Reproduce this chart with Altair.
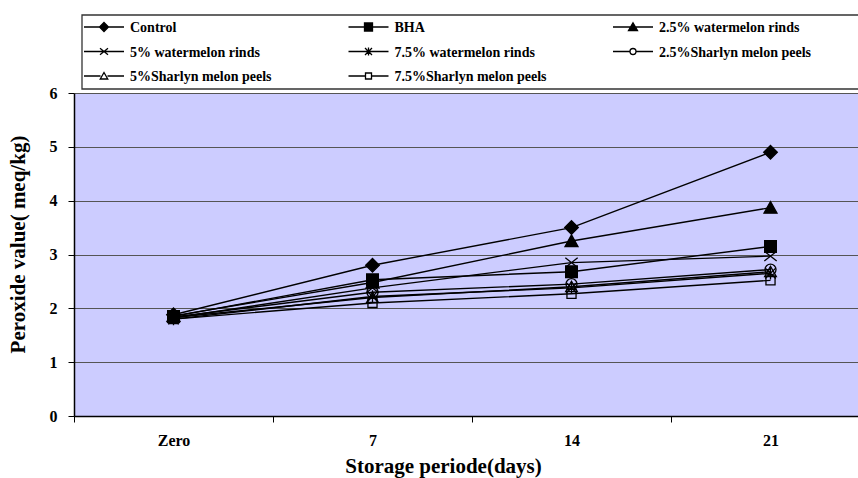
import altair as alt
import pandas as pd

days = ["Zero", "7", "14", "21"]
series = [
    "Control",
    "BHA",
    "2.5% watermelon rinds",
    "5% watermelon rinds",
    "7.5% watermelon rinds",
    "2.5%Sharlyn melon peels",
    "5%Sharlyn melon peels",
    "7.5%Sharlyn melon peels",
]
control = [1.88, 2.80, 3.50, 4.90]
bha = [1.85, 2.53, 2.68, 3.15]
wm25 = [1.86, 2.48, 3.25, 3.87]
wm5 = [1.82, 2.38, 2.85, 2.97]
wm75 = [1.80, 2.22, 2.38, 2.65]
sm25 = [1.84, 2.30, 2.45, 2.72]
sm5 = [1.83, 2.20, 2.40, 2.68]
sm75 = [1.80, 2.10, 2.27, 2.52]
values = [control, bha, wm25, wm5, wm75, sm25, sm5, sm75]

# marker outlines (unit coordinates) for the plot
marker_paths = [
    "M0,-1.05L1.05,0L0,1.05L-1.05,0Z",
    "M-0.9,-0.9H0.9V0.9H-0.9Z",
    "M0,-0.95L1,0.85H-1Z",
    "M-0.95,-0.75L0.95,0.75M-0.95,0.75L0.95,-0.75",
    "M-0.8,-0.8L0.8,0.8M-0.8,0.8L0.8,-0.8M0,-0.95V0.95",
    "M-0.85,0A0.85,0.85,0,1,0,0.85,0A0.85,0.85,0,1,0,-0.85,0Z",
    "M0,-0.85L0.9,0.75H-0.9Z",
    "M-0.7,-0.7H0.7V0.7H-0.7Z",
]
# legend symbols: marker with its line segment
legend_paths = [
    "M-4,0H4M0,-0.9L0.9,0L0,0.9L-0.9,0Z",
    "M-4,0H4M-0.8,-0.8H0.8V0.8H-0.8Z",
    "M-4,0H4M0,-0.85L0.9,0.7H-0.9Z",
    "M-4,0H4M-0.8,-0.65L0.8,0.65M-0.8,0.65L0.8,-0.65",
    "M-4,0H4M-0.7,-0.7L0.7,0.7M-0.7,0.7L0.7,-0.7M0,-0.8V0.8",
    "M-4,0H-0.6M0.6,0H4M-0.6,0A0.6,0.6,0,1,0,0.6,0A0.6,0.6,0,1,0,-0.6,0Z",
    "M-4,0H-0.7M0.7,0H4M0,-0.7L0.75,0.6H-0.75Z",
    "M-4,0H-0.6M0.6,0H4M-0.6,-0.6H0.6V0.6H-0.6Z",
]
fills = ["black", "black", "black", "transparent", "transparent",
         "transparent", "transparent", "transparent"]

rows = []
for s, vals in zip(series, values):
    for d, v in zip(days, vals):
        rows.append({"day": d, "series": s, "pv": v})
df = pd.DataFrame(rows)

legend_df = pd.DataFrame({
    "series": series,
    "col": [i % 3 for i in range(len(series))],
    "row": [i // 3 for i in range(len(series))],
})

FONT = "Liberation Serif"

x_enc = alt.X(
    "day:N",
    sort=days,
    bandPosition=0.5,
    scale=alt.Scale(type="band", paddingInner=0, paddingOuter=0, range=[0, 796]),
    axis=alt.Axis(
        title="Storage periode(days)",
        labelAngle=0,
        tickBand="extent",
        tickSize=6,
        tickColor="black",
        domainColor="black",
        domainWidth=1.5,
        grid=False,
        labelFont=FONT,
        labelFontSize=16,
        labelFontWeight="bold",
        labelColor="black",
        labelPadding=10,
        titleFont=FONT,
        titleFontSize=21,
        titleFontWeight="bold",
        titleColor="black",
        titleX=369,
        titleY=56,
        titleBaseline="alphabetic",
    ),
)
y_enc = alt.Y(
    "pv:Q",
    scale=alt.Scale(domain=[0, 6], nice=False, zero=True),
    axis=alt.Axis(
        title="Peroxide value( meq/kg)",
        values=[0, 1, 2, 3, 4, 5, 6],
        format="d",
        grid=True,
        gridColor="#555555",
        gridWidth=1,
        tickSize=6,
        tickColor="black",
        domainColor="black",
        domainWidth=1.5,
        labelFont=FONT,
        labelFontSize=16,
        labelFontWeight="bold",
        labelColor="black",
        labelPadding=11,
        titleFont=FONT,
        titleFontSize=21,
        titleFontWeight="bold",
        titleColor="black",
        titleX=-56,
        titleY=151,
        titleBaseline="middle",
    ),
)

base = alt.Chart(df)

lines = base.mark_line(color="black", strokeWidth=1.4).encode(
    x=x_enc, y=y_enc, detail="series:N"
)

points = base.mark_point(size=169, strokeWidth=1.3, opacity=1).encode(
    x=x_enc,
    y=y_enc,
    shape=alt.Shape("series:N", scale=alt.Scale(domain=series, range=marker_paths), legend=None),
    fill=alt.Fill("series:N", scale=alt.Scale(domain=series, range=fills), legend=None),
    stroke=alt.value("black"),
)

main = alt.layer(lines, points)

# ---- legend (drawn with its own column/row scales above the plot) ----
lx = alt.X("col:Q", scale=alt.Scale(domain=[0, 2], range=[30, 559]), axis=None)
ly = alt.Y("row:Q", scale=alt.Scale(domain=[0, 2], range=[-66, -17]), axis=None)

frame = alt.Chart(pd.DataFrame({"k": [0]})).mark_rect(
    fill="white", stroke="#333333", strokeWidth=1.3
).encode(
    x=alt.value(8), x2=alt.value(830), y=alt.value(-78), y2=alt.value(-4)
)

leg_sym = alt.Chart(legend_df).mark_point(size=100, strokeWidth=1.3, opacity=1).encode(
    x=lx,
    y=ly,
    shape=alt.Shape("series:N", scale=alt.Scale(domain=series, range=legend_paths), legend=None),
    fill=alt.Fill("series:N", scale=alt.Scale(domain=series, range=fills), legend=None),
    stroke=alt.value("black"),
)

leg_txt = alt.Chart(legend_df).mark_text(
    align="left", baseline="middle", dx=26, dy=1,
    font=FONT, fontSize=14, fontWeight="bold", color="black"
).encode(x=lx, y=ly, text="series:N")

legend = alt.layer(frame, leg_sym, leg_txt)

chart = (
    alt.layer(main, legend)
    .resolve_scale(x="independent", y="independent", shape="independent", fill="independent")
    .properties(
        width=784,
        height=323,
        autosize=alt.AutoSizeParams(type="none"),
        padding={"left": 74, "top": 93, "right": 0, "bottom": 62},
        background="white",
    )
    .configure_view(fill="#CCCCFF", stroke="transparent")
)

chart.save("out.html", embed_options={"renderer": "svg", "actions": False})
